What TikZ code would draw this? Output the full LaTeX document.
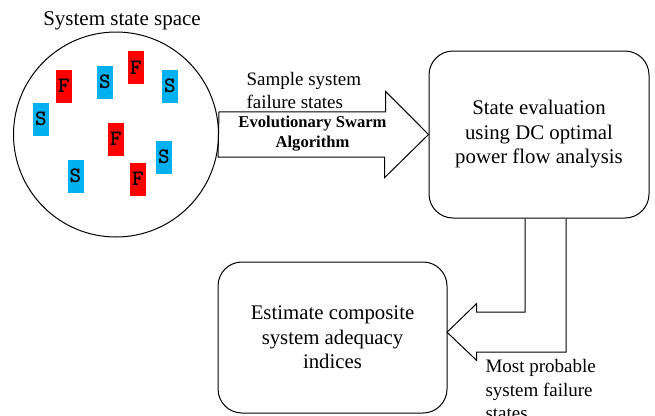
\documentclass[tikz,border=0pt]{standalone}
\usepackage{fontspec}
\setmainfont{Liberation Serif}
\usepackage{tikz}
\usetikzlibrary{calc}
\definecolor{statered}{HTML}{FF0000}
\definecolor{stateblue}{HTML}{00B0F0}

\begin{document}
\begin{tikzpicture}[
    x=1pt, y=-1pt, line width=1pt,
    frame/.style={rectangle, draw, rounded corners=24pt, align=center,
                  font=\fontsize{20.8}{24.5}\selectfont},
    token/.style={rectangle, minimum width=16pt, minimum height=33pt, inner sep=0pt,
                  font=\ttfamily\bfseries\fontsize{22}{22}\selectfont},
    sbox/.style={token, fill=stateblue},
    fbox/.style={token, fill=statered},
    blk/.style={draw, line join=miter},
    note/.style={inner sep=0pt, align=left, font=\fontsize{19}{23.3}\selectfont}
]
    \useasboundingbox (0,0) rectangle (655,415);

    % state space with sampled states
    \node[circle, draw, minimum size=205pt, inner sep=0pt] (space) at (116,134.5) {};
    \node[anchor=base, inner sep=0pt, font=\fontsize{21}{24}\selectfont] (title) at (122,25) {System state space};
    \node[fbox] (f1) at (64,86)    {F};
    \node[sbox] (s1) at (105,82)   {S};
    \node[fbox] (f2) at (136,67.5) {F};
    \node[sbox] (s2) at (170,86)   {S};
    \node[sbox] (s3) at (41,119)   {S};
    \node[fbox] (f3) at (116,139)  {F};
    \node[sbox] (s4) at (164,157)  {S};
    \node[sbox] (s5) at (75.5,176) {S};
    \node[fbox] (f4) at (138,179)  {F};

    \node[frame, minimum width=220pt, minimum height=167pt] (eval) at (539,134.5)
        {State evaluation\\ using DC optimal\\ power flow analysis};
    \node[frame, minimum width=229pt, minimum height=151pt] (estimate) at (332.5,337.5)
        {Estimate composite\\ system adequacy\\ indices};

    % block arrows
    \draw[blk] (space.east) ++(0,-22.7) -- ++(166.5,0) -- ++(0,-20.5) -- (eval.west)
        -- ++(-44,43.2) -- ++(0,-20.5) -- ++(-166.5,0) -- cycle;
    \draw[blk] (eval.south) ++(-14,0) |- ++(-48.3,93.7) -- ++(0,-8.7) -- ++(-29.7,28.7)
        -- ++(29.7,28.3) -- ++(0,-8.3) -| ($(eval.south)+(27,0)$);

    \node[note, anchor=north west] (sample) at (246,72) {Sample system\\ failure states};
    \node[inner sep=0pt, anchor=north, align=center, font=\bfseries\fontsize{16.6}{20.3}\selectfont]
        (esa) at (312.5,115.4) {Evolutionary Swarm\\ Algorithm};
    \node[note, anchor=north west] (probable) at (485,359.3) {Most probable\\ system failure\\ states};
\end{tikzpicture}
\end{document}
